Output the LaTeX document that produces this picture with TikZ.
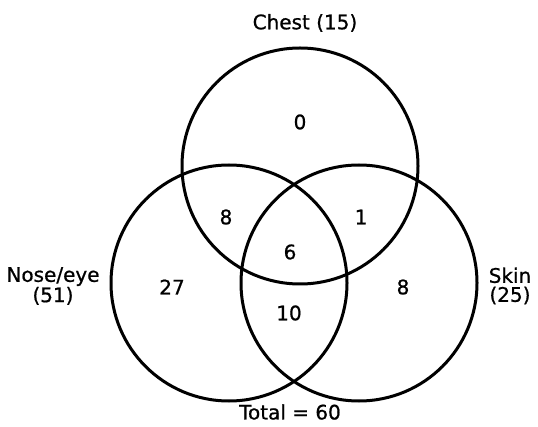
\documentclass[tikz,border=0pt]{standalone}
\usepackage{fontspec}
\setmainfont{DejaVu Sans}[FakeBold=0.8]
\begin{document}
\begin{tikzpicture}[x=1pt,y=-1pt,
  set/.style={draw=black,line width=3pt},
  lbl/.style={font=\fontsize{20}{19}\selectfont,inner sep=0pt,align=center},
  num/.style={font=\fontsize{20}{19}\selectfont,inner sep=0pt}]
\useasboundingbox[fill=white] (0,0) rectangle (538,427);
\draw[set] (300,166) circle (118);
\draw[set] (229,283) circle (118);
\draw[set] (359,283) circle (118);
\node[lbl] (chest) at (305,23) {Chest (15)};
\node[lbl] (nose) at (53,286) {Nose/eye\\(51)};
\node[lbl] (skin) at (510,286) {Skin\\(25)};
\node[lbl] (total) at (290,412) {Total = 60};
\node[num] (c) at (300,122) {0};
\node[num] (cn) at (226,217) {8};
\node[num] (cs) at (361,217) {1};
\node[num] (cns) at (290,252) {6};
\node[num] (n) at (172,287) {27};
\node[num] (ns) at (289,313) {10};
\node[num] (s) at (403,287) {8};
\end{tikzpicture}
\end{document}
